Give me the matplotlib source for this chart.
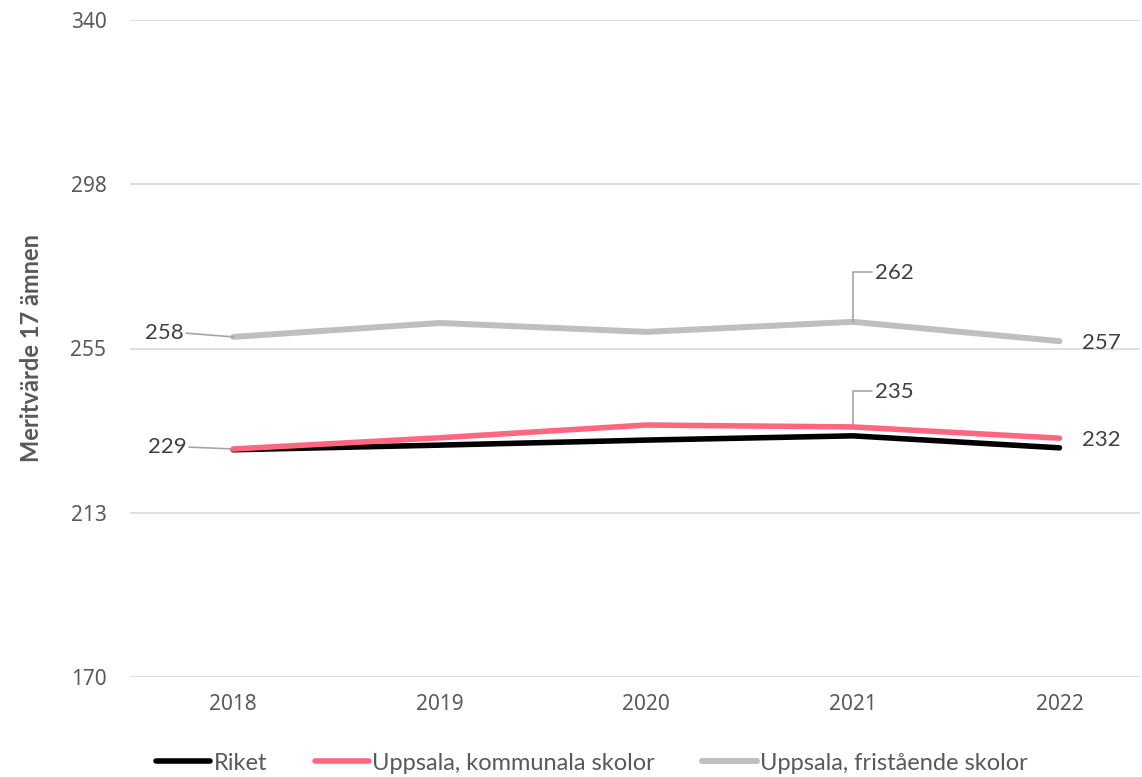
import matplotlib
matplotlib.use("Agg")
import matplotlib.pyplot as plt

years = ["2018", "2019", "2020", "2021", "2022"]
riket = [228.8, 230.0, 231.3, 232.4, 229.3]
kommunala = [229.0, 231.9, 235.2, 234.7, 231.8]
fristaende = [258.0, 261.6, 259.3, 261.9, 256.9]
y_ticks = [170, 212.5, 255, 297.5, 340]
y_tick_labels = ["170", "213", "255", "298", "340"]

plt.rcParams["font.family"] = ["Lato", "DejaVu Sans"]

fig = plt.figure(figsize=(11.42, 7.77), dpi=100)
ax = fig.add_axes([130 / 1142, 1 - 677 / 777, 1010 / 1142, 657 / 777])

x = list(range(len(years)))
ax.plot(x, riket, color="#000000", lw=4.0, solid_capstyle="round", label="Riket", zorder=3)
ax.plot(x, kommunala, color="#FF6680", lw=4.0, solid_capstyle="round",
        label="Uppsala, kommunala skolor", zorder=4)
ax.plot(x, fristaende, color="#BFBFBF", lw=4.3, solid_capstyle="round",
        label="Uppsala, fristående skolor", zorder=3)

ax.set_ylim(170, 340)
ax.set_xlim(-0.5, 4.39)
ax.set_yticks(y_ticks)
ax.set_yticklabels(y_tick_labels)
ax.set_xticks(x)
ax.set_xticklabels(years)
for t in ax.get_xticklabels() + ax.get_yticklabels():
    t.set_family(["Noto Sans", "DejaVu Sans"])
ax.tick_params(axis="both", length=0, colors="#595959", labelsize=15)
ax.tick_params(axis="y", pad=17)
ax.tick_params(axis="x", pad=12)
ax.grid(axis="y", color="#D9D9D9", lw=1.2)
ax.set_axisbelow(True)
for s in ax.spines.values():
    s.set_visible(False)

ax.set_ylabel("Meritvärde 17 ämnen", fontsize=17, fontweight="bold", color="#595959", labelpad=20)

lab_kw = dict(fontsize=16, color="#404040", textcoords="offset pixels", va="center")
lead = dict(arrowstyle="-", color="#A6A6A6", lw=1.2, shrinkA=0, shrinkB=0)

# 2018 labels with short leaders
ax.annotate(f"{fristaende[0]:.0f}", xy=(0, fristaende[0]), xytext=(-50, 4), ha="right",
            arrowprops=dict(lead, relpos=(1.0, 0.5), connectionstyle="arc3,rad=0"), **lab_kw)
ax.annotate(f"{kommunala[0]:.0f}", xy=(0, kommunala[0]), xytext=(-47, 2), ha="right",
            arrowprops=dict(lead, relpos=(1.0, 0.5), connectionstyle="arc3,rad=0"), **lab_kw)

# 2021 labels with elbow leaders
ax.annotate(f"{fristaende[3]:.0f}", xy=(3, fristaende[3]), xytext=(22, 49), ha="left",
            arrowprops=dict(lead, relpos=(0.0, 0.55), connectionstyle="angle,angleA=0,angleB=90,rad=0"),
            **lab_kw)
ax.annotate(f"{kommunala[3]:.0f}", xy=(3, kommunala[3]), xytext=(22, 35), ha="left",
            arrowprops=dict(lead, relpos=(0.0, 0.55), connectionstyle="angle,angleA=0,angleB=90,rad=0"),
            **lab_kw)

# 2022 labels
ax.annotate(f"{fristaende[4]:.0f}", xy=(4, fristaende[4]), xytext=(23, -2), ha="left", **lab_kw)
ax.annotate(f"{kommunala[4]:.0f}", xy=(4, kommunala[4]), xytext=(23, -2), ha="left", **lab_kw)

leg = fig.legend(loc="center", bbox_to_anchor=(592 / 1142, 1 - 763 / 777), ncol=3, frameon=False,
                 fontsize=17, handlelength=2.3, handletextpad=0.15, columnspacing=2.0)
for t in leg.get_texts():
    t.set_color("#595959")

fig.savefig("out.png", dpi=100)
